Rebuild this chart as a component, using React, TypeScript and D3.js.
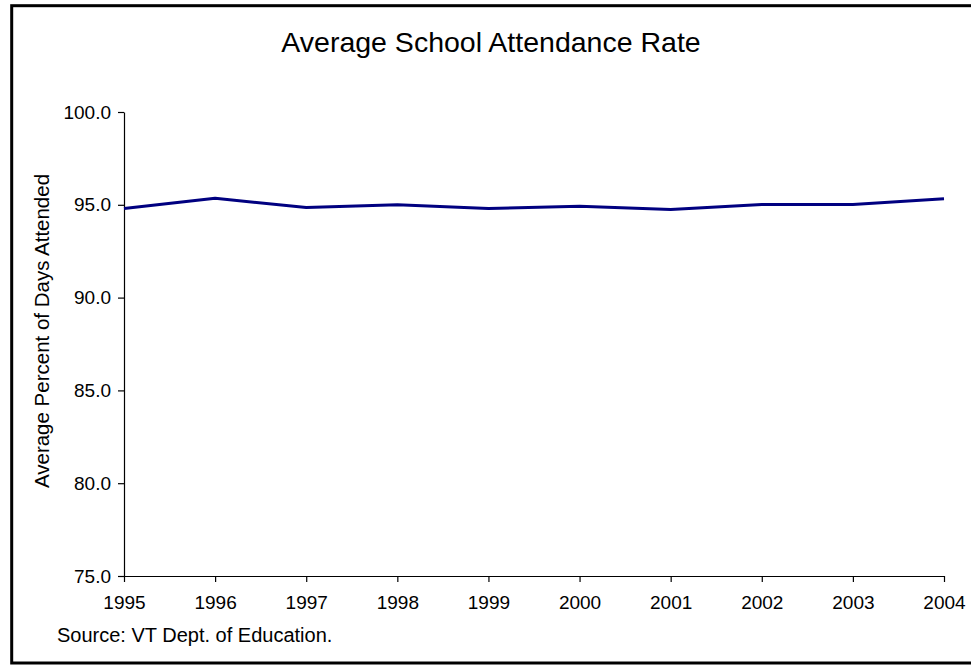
import React, { useEffect, useRef } from "react";
import * as d3 from "d3";

const years = [1995, 1996, 1997, 1998, 1999, 2000, 2001, 2002, 2003, 2004];
const attendance = [94.8, 95.35, 94.85, 95.0, 94.8, 94.92, 94.75, 95.02, 95.02, 95.33];
const yTicks = [75, 80, 85, 90, 95, 100];

const W = 971;
const H = 665;
const font = "'Liberation Sans', Arial, sans-serif";

export default function App() {
  const svgRef = useRef<SVGSVGElement | null>(null);

  useEffect(() => {
    if (!svgRef.current) return;
    const svg = d3.select(svgRef.current);
    svg.selectAll("*").remove();

    // outer frame (right edge runs off the picture)
    svg
      .append("rect")
      .attr("x", 11.7)
      .attr("y", 5.7)
      .attr("width", 1000)
      .attr("height", 657.3)
      .attr("fill", "#fff")
      .attr("stroke", "#000")
      .attr("stroke-width", 3);

    const x = d3.scalePoint<number>().domain(years).range([124, 944]);
    const y = d3.scaleLinear().domain([75, 100]).range([576, 112]);

    // y axis
    const yAxis = svg.append("g").attr("transform", "translate(124,0)");
    yAxis
      .call(
        d3
          .axisLeft(y)
          .tickValues(yTicks)
          .tickFormat(d3.format(".1f"))
          .tickSize(6)
          .tickSizeOuter(0)
          .tickPadding(7)
      )
      .call((g) => g.select(".domain").attr("stroke", "#000").attr("stroke-width", 1.2))
      .call((g) => g.selectAll(".tick line").attr("stroke", "#000").attr("stroke-width", 1.2))
      .call((g) =>
        g
          .selectAll(".tick text")
          .attr("fill", "#000")
          .style("font-family", font)
          .style("font-size", "19px")
      );

    // x axis
    const xAxis = svg.append("g").attr("transform", "translate(0,576)");
    xAxis
      .call(d3.axisBottom(x).tickSize(6).tickSizeOuter(0).tickPadding(14))
      .call((g) => g.select(".domain").attr("stroke", "#000").attr("stroke-width", 1.2))
      .call((g) => g.selectAll(".tick line").attr("stroke", "#000").attr("stroke-width", 1.2))
      .call((g) =>
        g
          .selectAll(".tick text")
          .attr("fill", "#000")
          .style("font-family", font)
          .style("font-size", "19px")
      );

    // line
    const line = d3
      .line<number>()
      .x((_, i) => x(years[i]) as number)
      .y((d) => y(d));

    svg
      .append("path")
      .datum(attendance)
      .attr("d", line)
      .attr("fill", "none")
      .attr("stroke", "#000080")
      .attr("stroke-width", 3)
      .attr("stroke-linejoin", "round");

    // title
    svg
      .append("text")
      .attr("x", 491)
      .attr("y", 52)
      .attr("text-anchor", "middle")
      .style("font-family", font)
      .style("font-size", "28.5px")
      .text("Average School Attendance Rate");

    // y axis title
    svg
      .append("text")
      .attr("transform", "translate(49,331) rotate(-90)")
      .attr("text-anchor", "middle")
      .style("font-family", font)
      .style("font-size", "20.5px")
      .text("Average Percent of Days Attended");

    // source note
    svg
      .append("text")
      .attr("x", 57)
      .attr("y", 642)
      .style("font-family", font)
      .style("font-size", "20px")
      .text("Source: VT Dept. of Education.");
  }, []);

  return (
    <svg
      ref={svgRef}
      width={W}
      height={H}
      style={{ position: "fixed", left: 0, top: 0, background: "#fff" }}
    />
  );
}
